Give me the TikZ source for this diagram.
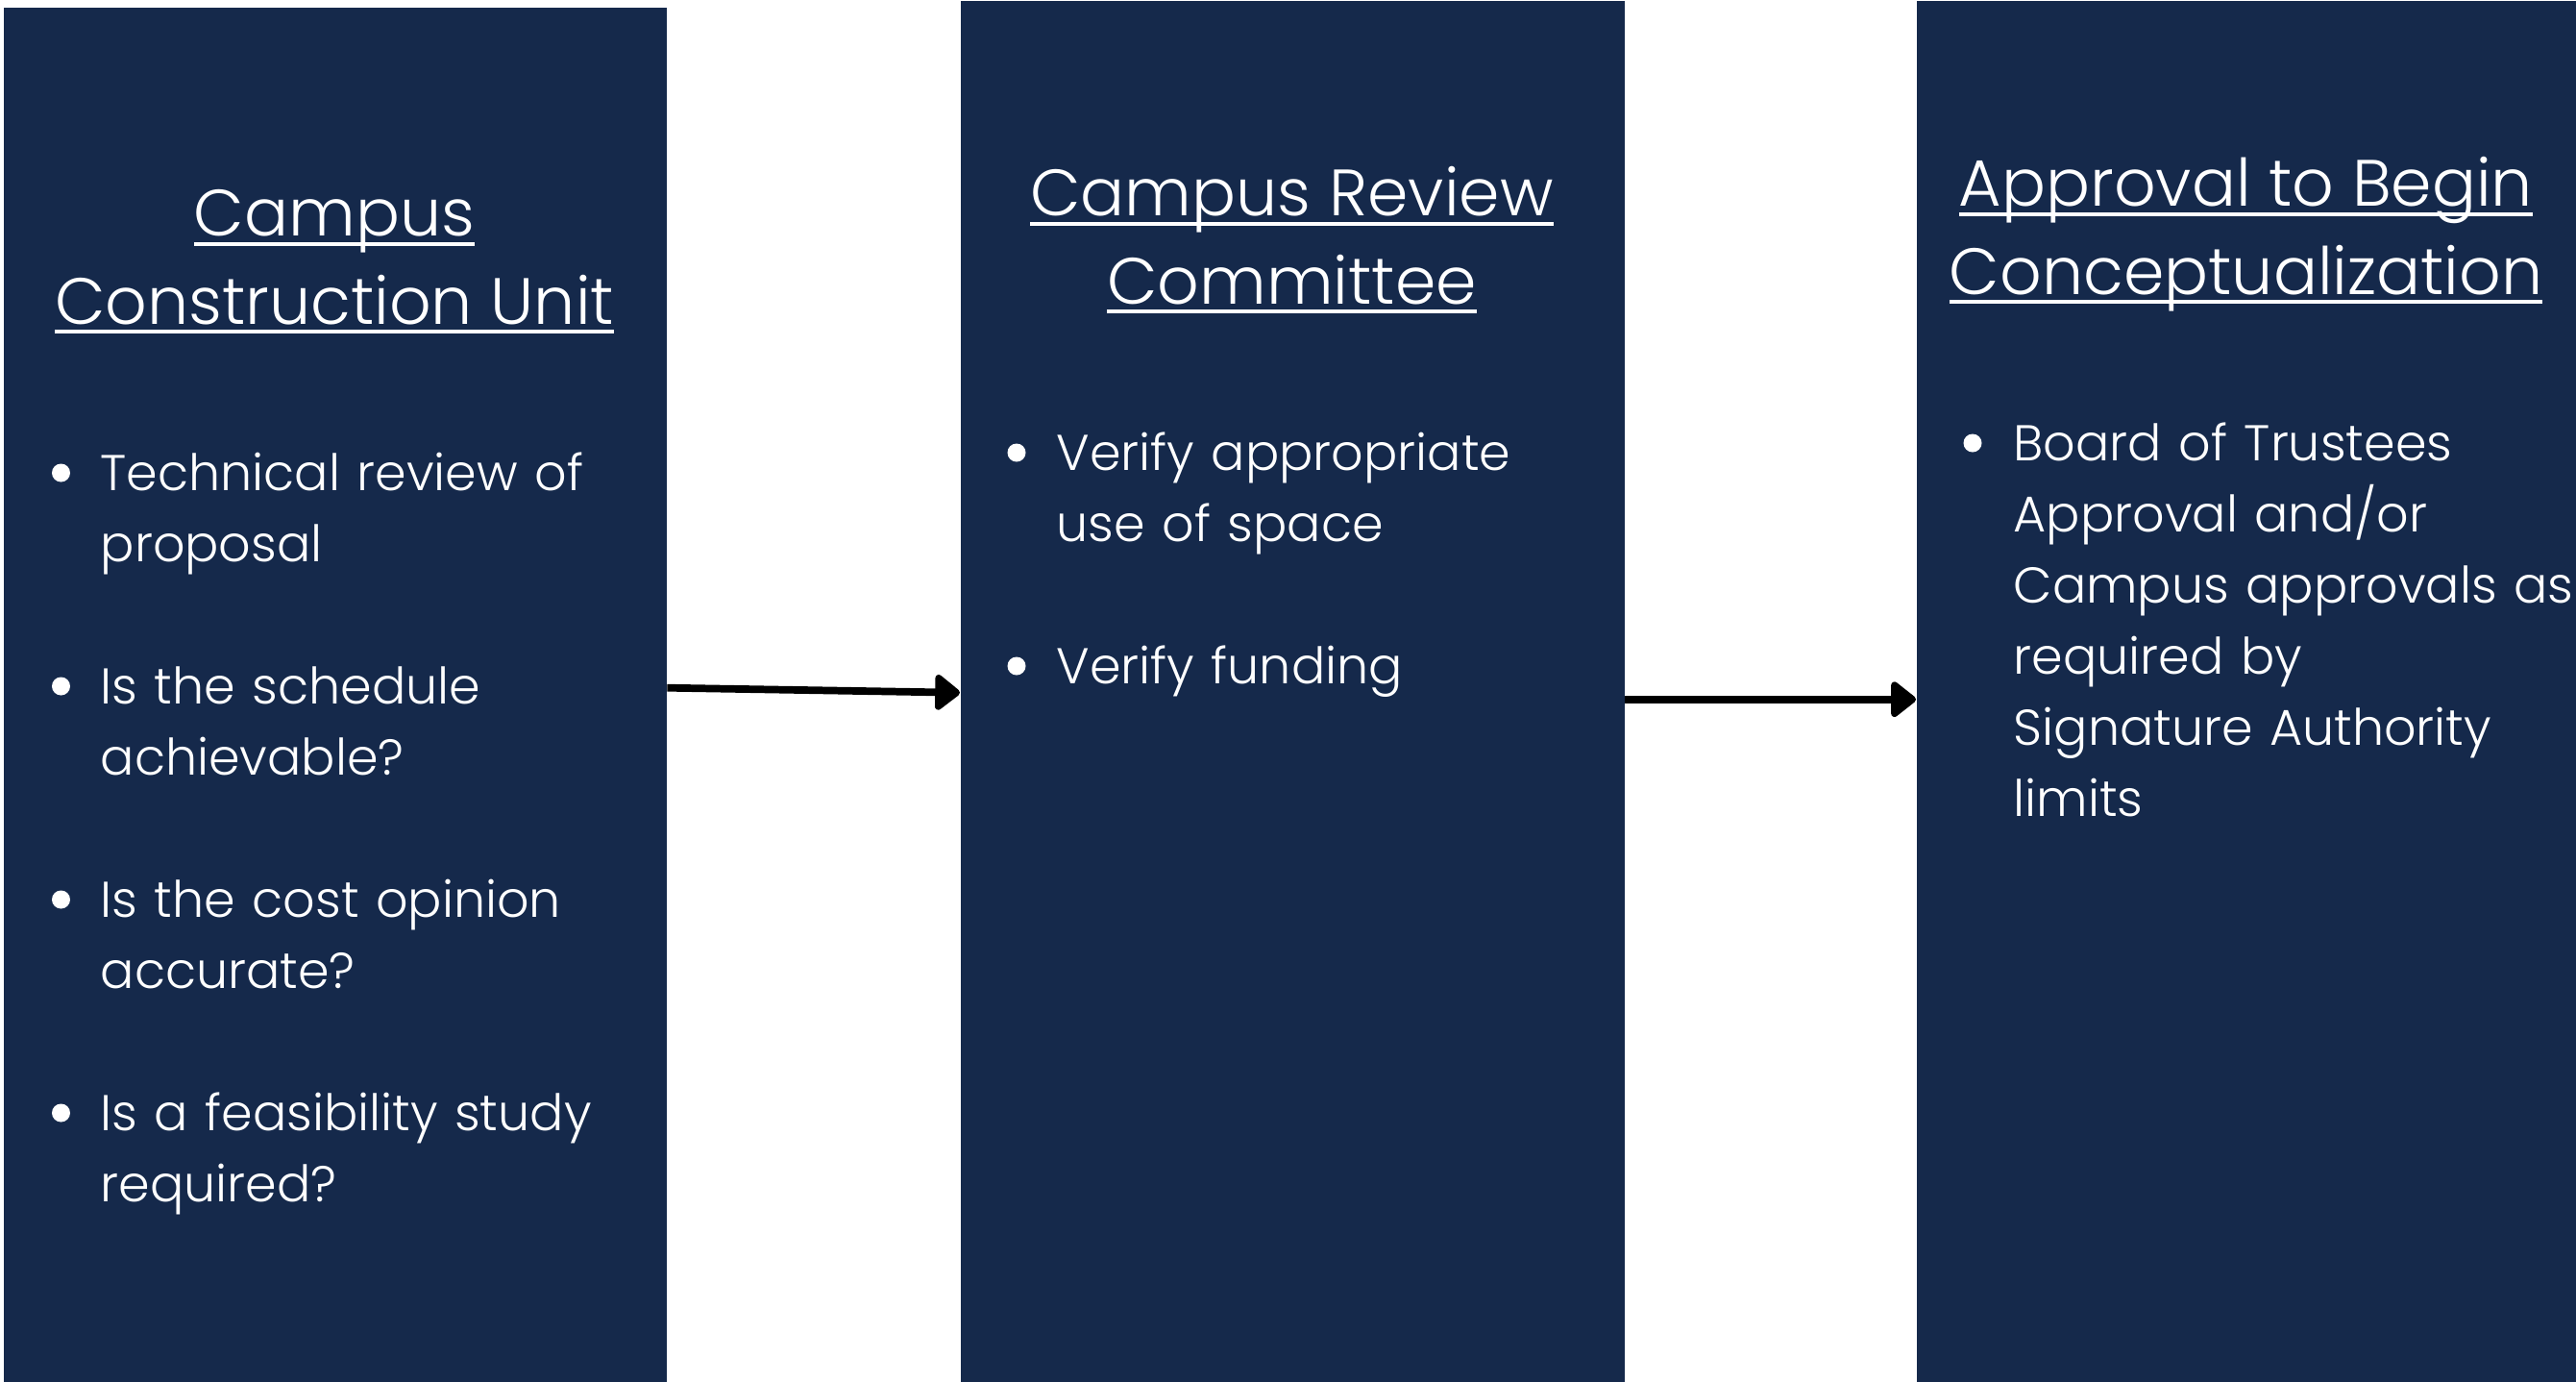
\documentclass[tikz,border=0pt]{standalone}
\usepackage{fontspec}
\IfFontExistsTF{Poppins Light}{\setmainfont{Poppins Light}}{\setmainfont{Poppins}}
\usetikzlibrary{arrows.meta}
\definecolor{navy}{RGB}{21,41,75}
\setlength\parindent{0pt}
\newcommand\ttlline[1]{\setbox0\hbox{#1}\rlap{\color{white}\rule[-0.1cm]{\wd0}{0.04cm}}\box0}

\tikzset{
  colbox/.style={fill=navy, draw=none, minimum width=6.90cm, minimum height=14.37cm, anchor=north west, inner sep=0},
  ttl/.style={text=white, anchor=north, align=center, inner sep=0, font=\fontsize{19.4}{26.1}\selectfont},
  itm/.style={text=white, anchor=north west, align=left, text width=7cm, inner sep=0, font=\fontsize{14.9}{21.05}\selectfont},
  dot/.style={circle, fill=white, inner sep=0, minimum size=0.19cm},
  arr/.style={line width=2.2pt, -{Triangle[length=8pt, width=12pt, round]}}
}

\begin{document}
\begin{tikzpicture}
\useasboundingbox (0,0) rectangle (26.81,-14.37);
% the three columns
\node[colbox, minimum height=14.30cm] (cu) at (0.03,-0.07) {};
\node[colbox, minimum width=6.91cm] (crc) at (9.99,0) {};
\node[colbox, minimum width=6.87cm] (abc) at (19.94,0) {};

% headings
\node[ttl] (cuT) at (3.48,-1.806) {\strut\ttlline{Campus}\\\ttlline{Construction Unit}};
\node[ttl] (crcT) at (13.445,-1.596) {\strut\ttlline{Campus Review}\\\ttlline{Committee}};
\node[ttl] (abcT) at (23.375,-1.496) {\strut\ttlline{Approval to Begin}\\\ttlline{Conceptualization}};

% bullet points
\node[itm] (cu1) at (1.04,-4.582) {\strut Technical review of\\proposal};
\node[itm] (cu2) at (1.04,-6.802) {\strut Is the schedule\\achievable?};
\node[itm] (cu3) at (1.04,-9.022) {\strut Is the cost opinion\\accurate?};
\node[itm] (cu4) at (1.04,-11.242) {\strut Is a feasibility study\\required?};
\node[itm] (crc1) at (10.99,-4.372) {\strut Verify appropriate\\use of space};
\node[itm] (crc2) at (10.99,-6.592) {\strut Verify funding};
\node[itm] (abc1) at (20.95,-4.272) {\strut Board of Trustees\\Approval and/or\\Campus approvals as\\required by\\Signature Authority\\limits};

% bullet dots
\foreach \x/\y [count=\i] in {0.635/-4.92, 0.635/-7.14, 0.635/-9.36, 0.635/-11.58, 10.58/-4.71, 10.58/-6.93, 20.53/-4.61}
  \node[dot] (d\i) at (\x,\y) {};

% flow
\draw[arr] ([yshift=0.07cm]cu.east) -- ([yshift=-0.015cm]crc.west);
\draw[arr] ([yshift=-0.085cm]crc.east) -- ([yshift=-0.085cm]abc.west);
\end{tikzpicture}
\end{document}
